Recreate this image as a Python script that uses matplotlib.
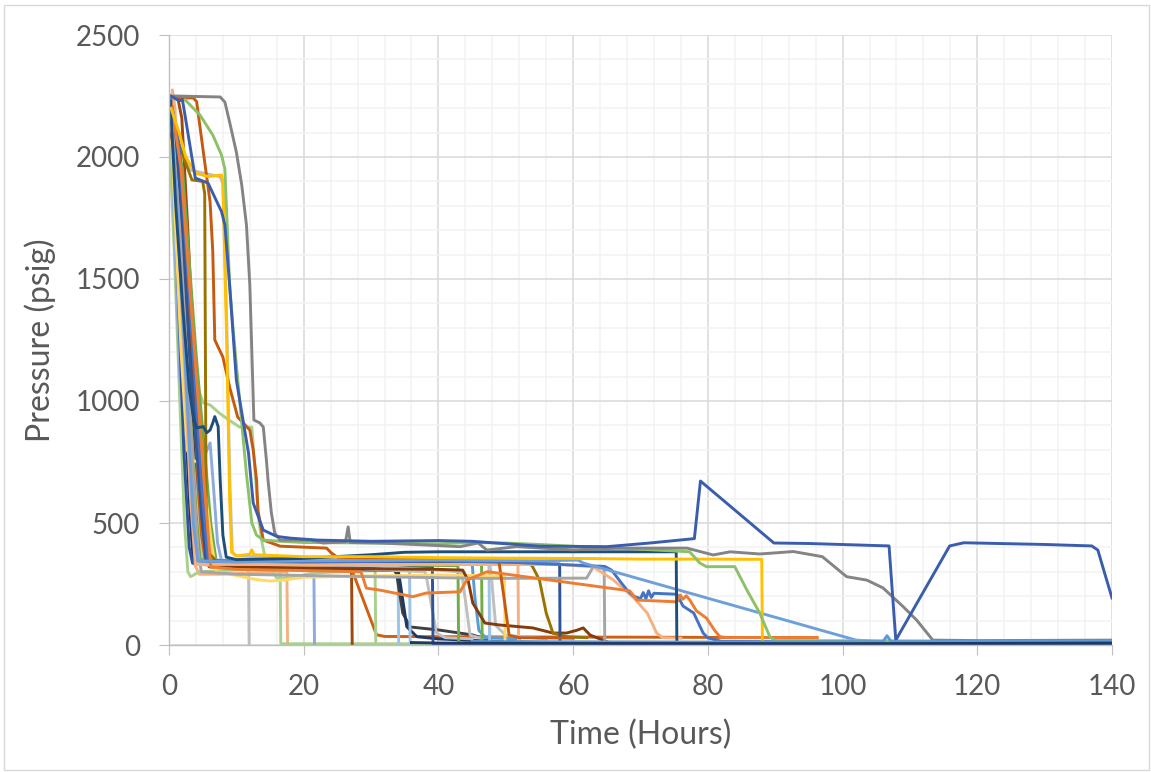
import matplotlib.pyplot as plt
from matplotlib.ticker import MultipleLocator
from matplotlib.patches import Rectangle

plt.rcParams['font.family'] = ['Lato', 'DejaVu Sans']

# each run: (time in hours, pressure in psig)
salmon_a = [(0.2, 2150), (0.5, 2275), (0.9, 2200), (2.0, 1400), (3.0, 700), (3.8, 330), (4.5, 290), (8, 290),
            (12, 295), (17.5, 300), (17.6, 3)]
lgray_a = [(0.1, 2230), (1.0, 2000), (2.2, 1300), (3.5, 600), (4.2, 360), (5, 345), (8, 340), (11.8, 345),
           (11.9, 3)]
lgreen_a = [(0.1, 2050), (0.8, 1600), (1.6, 1000), (2.3, 500), (2.8, 300), (3.2, 280), (4.5, 300), (8, 305),
            (12, 310), (16.5, 315), (16.6, 5), (38.9, 5)]
lblue_a = [(0.2, 2240), (0.8, 1700), (1.6, 1100), (2.5, 780), (3.4, 751), (4.6, 746), (5.5, 790), (6.1, 828),
           (6.6, 650), (7.2, 420), (7.8, 345), (12, 340), (18, 335), (21.5, 335), (21.6, 3)]
brown_a = [(0.3, 2240), (1.3, 2242), (1.9, 2160), (2.8, 1700), (3.8, 1100), (4.6, 600), (5.2, 360), (6, 320),
           (10, 315), (20, 310), (27.1, 300), (27.2, 3)]
orange_low = [(0.4, 2200), (1.5, 1800), (3.0, 1100), (4.5, 500), (5.2, 340), (10, 325), (20, 318), (27, 305),
              (27.4, 290), (30.8, 42), (32, 35), (50, 33), (70, 32), (96.2, 30)]
lgreen_shelf = [(0.5, 2240), (1.3, 1900), (2.2, 1500), (3.2, 1200), (4.3, 1050), (5.1, 992), (6.1, 984),
                (7.5, 950), (9, 920), (10.5, 893), (12.3, 893), (12.8, 700), (13.3, 520), (13.8, 420),
                (14.5, 330), (16, 275), (18, 275), (21.4, 295), (25, 300), (30.6, 305), (30.7, 3)]
lblue_b = [(0.2, 2250), (0.8, 2000), (1.8, 1300), (2.8, 700), (3.6, 340), (10, 328), (20, 325), (34.0, 322),
           (34.1, 3)]
dgray_a = [(0.4, 2220), (1.5, 1800), (2.1, 1742), (2.5, 1600), (3.5, 900), (4.3, 400), (4.8, 335), (10, 320),
           (20, 315), (33.5, 305), (33.8, 290), (34.7, 131), (35.8, 74), (40.2, 61), (45.1, 41), (48.1, 14),
           (50, 10)]
navy_a = [(0.3, 2230), (1.0, 1900), (2.2, 1100), (3.0, 600), (3.6, 340), (10, 325), (20, 318), (34, 312),
          (34.3, 260), (35.3, 75), (36.8, 34), (40, 25), (48, 15), (60, 8)]
lblue_c = [(0.2, 2200), (1.2, 1700), (2.5, 1000), (3.6, 500), (4.2, 340), (10, 335), (20, 330), (35.7, 328),
           (35.8, 3)]
lgray_b = [(0.3, 2180), (1.5, 1700), (3.0, 1000), (4.4, 450), (5.0, 335), (10, 330), (20, 320), (30, 310),
           (38, 300), (38.3, 266), (39.7, 49), (41, 30), (45, 25)]
navy_b = [(0.2, 2240), (0.6, 2100), (1.3, 1500), (2.2, 800), (3.0, 400), (3.5, 335), (10, 330), (20, 325),
          (39.1, 322), (39.2, 5), (45, 5)]
green_a = [(0.3, 2200), (1.4, 1800), (2.8, 1100), (4.0, 550), (4.6, 350), (10, 340), (20, 335), (30, 330),
           (42.9, 325), (43, 3)]
lgray_c = [(0.4, 2190), (1.8, 1850), (3.6, 1200), (5.8, 500), (6.6, 345), (10, 335), (20, 330), (30, 325),
           (43.3, 300), (43.6, 266), (44.7, 40), (46, 30), (50, 28)]
blue_a = [(0.2, 2230), (1.1, 1900), (2.4, 1200), (3.4, 600), (4.0, 340), (10, 338), (20, 335), (30, 335),
          (45.0, 335), (45.4, 200), (46, 60), (47, 30), (52, 25)]
green_b = [(0.3, 2210), (2.0, 1950), (4.0, 1200), (6.2, 500), (7.0, 345), (10, 340), (20, 338), (30, 335),
           (46.4, 330), (46.5, 3)]
lblue_d = [(0.2, 2240), (1.8, 1850), (3.8, 1100), (5.8, 480), (6.5, 350), (10, 345), (20, 348), (30, 345),
           (47.5, 345), (47.6, 3)]
lgray_plateau = [(0.4, 2150), (1.5, 2050), (3.1, 1947), (7.6, 1919), (8.0, 1890), (8.6, 1300), (9.0, 700),
                 (9.4, 380), (10, 365), (20, 355), (30, 350), (40, 348), (47.5, 345), (47.8, 300), (48.5, 80),
                 (50, 40), (56, 25)]
yellow_b = [(0.2, 2200), (0.9, 1750), (1.8, 1200), (2.7, 800), (3.3, 760), (4.6, 745), (5.5, 600), (6.3, 420),
            (7, 300), (10, 285), (13, 268), (15, 262), (17, 266), (20, 278), (30, 283), (40, 287), (49.8, 283),
            (49.9, 3)]
salmon_b = [(0.5, 2240), (1.2, 2000), (2.3, 1400), (3.5, 700), (4.4, 330), (10, 320), (20, 325), (30, 330),
            (38, 335), (40, 345), (41, 335), (42, 348), (43, 334), (44, 346), (45, 336), (46, 347), (47, 335),
            (48, 345), (49, 336), (50, 343), (50.6, 338), (51.8, 336), (51.9, 3)]
brown_b = [(0.3, 2100), (1.8, 1850), (3.6, 1100), (5.3, 500), (6.0, 330), (10, 320), (20, 315), (30, 312),
           (40, 310), (43.6, 307), (44.4, 266), (45.1, 172), (46.9, 90), (49.1, 82), (54, 70), (57, 49),
           (59, 49), (60.5, 60), (61.5, 70), (62.5, 41), (65.5, 8)]
olive = [(0.3, 2200), (1.5, 2050), (3.4, 1906), (5.0, 1900), (5.3, 1850), (5.5, 600), (5.8, 380), (7, 345),
         (20, 340), (40, 338), (53.5, 336), (54, 320), (55, 266), (56, 131), (57, 49), (59, 34), (62, 30)]
navy_c = [(0.3, 2230), (1.4, 1950), (3.0, 1200), (4.8, 550), (5.5, 345), (10, 340), (20, 338), (30, 335),
          (40, 333), (50, 333), (58, 332), (58.05, 3)]
lgray_d = [(0.4, 2160), (1.6, 1700), (3.0, 1000), (4.2, 400), (4.8, 300), (10, 290), (20, 285), (30, 280),
           (47, 273), (62, 274), (63, 321), (64.6, 321), (64.7, 3)]
salmon_c = [(0.3, 2180), (1.0, 1900), (2.2, 1200), (3.2, 600), (3.9, 330), (10, 330), (20, 330), (40, 330),
            (58, 330), (63, 320), (66, 266), (69, 193), (71, 131), (72.4, 49), (73.3, 30), (76, 28)]
dorange_a = [(0.9, 2242), (3.6, 2242), (4.1, 2227), (5.1, 2020), (6.1, 1816), (6.5, 1611), (6.8, 1250),
             (8, 1180), (9, 1057), (10.2, 934), (12, 881), (12.5, 799), (13, 676), (13.2, 553), (14, 430),
             (16.5, 405), (23.4, 397), (24.1, 377), (25, 360), (30, 355), (40, 352), (48, 350), (49, 340),
             (50.5, 40), (52, 30), (60, 28)]
blue_b = [(0.2, 2240), (1.5, 2050), (3.3, 1300), (5.0, 600), (5.8, 345), (20, 340), (40, 345), (51.6, 338),
          (63, 324), (64.7, 322), (65.7, 307), (67, 260), (68, 225), (69, 200), (70, 190), (70.4, 215),
          (70.8, 190), (71.2, 222), (71.6, 195), (72, 212), (75.4, 208), (76.3, 160), (77.9, 131), (79.3, 49),
          (80, 29), (82, 15), (100, 12), (140, 12)]
orange_mid = [(0.3, 2230), (1.8, 1950), (3.8, 1200), (5.4, 600), (6.2, 320), (10, 310), (20, 305), (28.5, 300),
              (29.3, 233), (31.3, 225), (36.2, 198), (38.2, 213), (43.2, 218), (44.2, 266), (47.2, 300),
              (48, 298), (68.4, 222), (69.5, 184), (75.4, 177), (75.9, 205), (76.3, 188), (76.8, 202),
              (77.3, 185), (78.3, 140), (79.8, 110), (81, 60), (81.8, 34), (83, 30), (96.2, 30)]
lblue_diag = [(0.2, 2200), (1.0, 1900), (2.5, 1100), (3.6, 500), (4.3, 345), (10, 340), (20, 345), (40, 348),
              (55, 345), (60.7, 348), (61.5, 336), (102, 20), (105, 15), (140, 12)]
navy_382 = [(0.2, 2230), (1.0, 1800), (2.0, 1400), (3.0, 1050), (3.6, 936), (4.1, 890), (5.1, 895),
            (5.6, 870), (6.1, 881), (6.5, 910), (6.8, 936), (7.3, 895), (7.6, 676), (8.0, 450), (8.5, 360),
            (10, 350), (20, 355), (30, 370), (35, 380), (40, 382), (60, 382), (75.3, 382), (75.4, 3)]
gold_a = [(0.3, 2200), (1.5, 2100), (2.5, 2000), (3.9, 1934), (5.8, 1920), (7.8, 1926), (8.0, 1900),
          (8.6, 1200), (9.0, 600), (9.3, 380), (10, 365), (12, 372), (12.3, 390), (12.6, 370), (20, 362),
          (30, 362), (40, 358), (50, 356), (60, 355), (70, 352), (80, 352), (88, 351), (88.1, 3)]
green_long = [(2.4, 2234), (4.6, 2172), (6.5, 2090), (7.8, 2008), (8.3, 1950), (9, 1475), (9.5, 1300),
              (10.5, 1000), (11.5, 700), (12.3, 500), (13, 450), (14, 430), (16.5, 425), (20, 420), (30, 418),
              (40, 415), (45, 420), (50, 418), (55, 412), (60, 405), (67, 397), (77.3, 382), (78.8, 336),
              (79.8, 321), (84, 321), (85.8, 225), (87.7, 131), (89.2, 34), (90, 18), (140, 15)]
gray_long = [(0.8, 2250), (7.6, 2246), (8.3, 2225), (9, 2143), (10, 2020), (10.8, 1885), (11.5, 1721),
             (12, 1475), (12.6, 922), (13.5, 910), (14, 893), (14.5, 746), (14.7, 676), (15.2, 541),
             (15.7, 459), (16.5, 430), (21, 430), (22.9, 418), (26.2, 423), (26.6, 484), (26.9, 420),
             (31.3, 418), (38, 410), (43.2, 403), (45.9, 418), (47.2, 389), (51.6, 403), (60, 390), (67, 397),
             (76.9, 397), (80.8, 369), (83.3, 382), (87.7, 373), (92.7, 383), (97, 362), (100.6, 280),
             (103.6, 266), (106, 234), (109, 157), (111, 102), (113.4, 20), (120, 18), (140, 20)]
blue_long = [(0.3, 2250), (1.5, 2230), (2.0, 2234), (3.9, 1914), (5.8, 1893), (7.8, 1776), (8.3, 1721),
             (9.0, 1475), (10.0, 1086), (11.8, 787), (12.5, 582), (14.0, 471), (16, 445), (18, 438), (22, 430),
             (30, 425), (40, 428), (45, 425), (50, 415), (55, 405), (65, 403), (71.4, 418), (78.0, 436),
             (78.9, 672), (89.8, 418), (95, 416), (106.9, 406), (107.9, 20), (115.9, 406), (118, 419),
             (130, 412), (137, 406), (137.9, 389), (138.9, 295), (140, 193)]
lblue_bottom = [(45, 14), (80, 12), (106, 14), (106.6, 38), (107.2, 14), (140, 15)]
blue_bottom = [(40, 4), (80, 3), (140, 4)]
navy_bottom = [(36, 10), (40, 8), (60, 6), (100, 5), (140, 8)]

runs = [
    (salmon_a, '#F4B183'), (lgray_a, '#BFBFBF'), (lgreen_a, '#A9D18E'), (lblue_a, '#8FAADC'),
    (brown_a, '#9E480E'), (orange_low, '#D26012'), (lgreen_shelf, '#A9D18E'), (lblue_b, '#9DC3E6'),
    (dgray_a, '#404040'), (navy_a, '#203864'), (lblue_c, '#9DC3E6'), (lgray_b, '#BFBFBF'),
    (navy_b, '#2F5597'), (green_a, '#70AD47'), (lgray_c, '#BFBFBF'), (blue_a, '#5B9BD5'),
    (green_b, '#70AD47'), (lblue_d, '#9DC3E6'), (lgray_plateau, '#BFBFBF'), (yellow_b, '#FFD966'),
    (salmon_b, '#F4B183'), (brown_b, '#843C0C'), (olive, '#997300'), (navy_c, '#2F5597'),
    (lgray_d, '#A5A5A5'), (salmon_c, '#F4B183'), (dorange_a, '#C55A11'), (blue_b, '#4472C4'),
    (orange_mid, '#ED7D31'), (lblue_diag, '#6F9FD8'), (navy_382, '#1F4E79'), (gold_a, '#FFC000'),
    (green_long, '#8CC168'), (gray_long, '#848484'), (blue_long, '#3A5DAE'),
    (lblue_bottom, '#5B9BD5'), (blue_bottom, '#2F5597'), (navy_bottom, '#1F3864'),
]

fig = plt.figure(figsize=(11.51, 7.72), dpi=100)
ax = fig.add_axes([169 / 1151, 1 - 645 / 772, 943 / 1151, 610 / 772])

for pts, col in runs:
    t, p = zip(*pts)
    ax.plot(t, p, color=col, lw=2.1, solid_joinstyle='round')

ax.set_xlim(0, 140)
ax.set_ylim(0, 2500)
ax.xaxis.set_major_locator(MultipleLocator(20))
ax.xaxis.set_minor_locator(MultipleLocator(4))
ax.yaxis.set_major_locator(MultipleLocator(500))
ax.yaxis.set_minor_locator(MultipleLocator(100))
ax.grid(which='major', color='#D9D9D9', lw=1.1)
ax.grid(which='minor', color='#F2F2F2', lw=1.1)
ax.set_axisbelow(True)

for s in ['top', 'right']:
    ax.spines[s].set_visible(False)
for s in ['left', 'bottom']:
    ax.spines[s].set_color('#BFBFBF')
    ax.spines[s].set_linewidth(1.0)

ax.tick_params(which='major', direction='out', length=7, color='#BFBFBF',
               labelsize=20, labelcolor='#595959', pad=14)
ax.tick_params(which='minor', length=0)

ax.set_xlabel('Time (Hours)', fontsize=23, color='#595959')
ax.set_ylabel('Pressure (psig)', fontsize=23, color='#595959')
ax.xaxis.set_label_coords(0.5, -(735 - 645) / 610)
ax.xaxis.label.set_va('center')
ax.yaxis.set_label_coords(-(169 - 40) / 943, 0.5)
ax.yaxis.label.set_va('center')

fig.patches.append(Rectangle((4 / 1151, 2 / 772), 1145 / 1151, 765 / 772, transform=fig.transFigure,
                             fill=False, edgecolor='#D9D9D9', lw=1))

fig.savefig('out.png', dpi=100)
